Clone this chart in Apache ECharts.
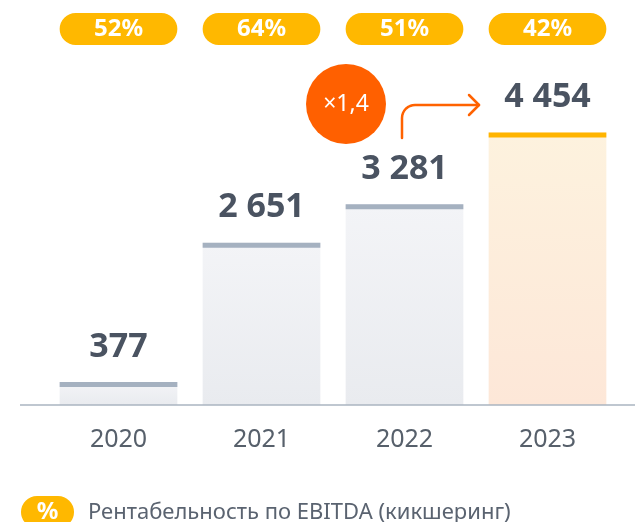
<!DOCTYPE html>
<html><head><meta charset="utf-8">
<script src="https://cdn.jsdelivr.net/npm/echarts/dist/echarts.min.js"></script>
<style>html,body{margin:0;padding:0;background:#fff}#c{width:635px;height:522px}</style>
</head><body><div id="c"></div><script>
const categories = ['2020', '2021', '2022', '2023'];
const revenue = [377, 2651, 3281, 4454];
const margins = [52, 64, 51, 42];
const growthLabel = '×1,4';
const legendText = 'Рентабельность по EBITDA (кикшеринг)';

const FONT = '"Noto Sans", "DejaVu Sans", sans-serif';
const fmt = v => String(v).replace(/\B(?=(\d{3})+(?!\d))/g, ' ');
const lastIdx = categories.length - 1;

const chart = echarts.init(document.getElementById('c'), null, {renderer: 'canvas'});

const barData = revenue.map((v, i) => [i, v]);
const pillData = margins.map((v, i) => [i, v]);

// arrow path: vertical up, rounded corner, horizontal right
const arrowPts = [[402, 138], [402, 118]];
for (let k = 1; k <= 8; k++) {
  const a = Math.PI - (k / 8) * (Math.PI / 2);
  arrowPts.push([415 + 13 * Math.cos(a), 118 - 13 * Math.sin(a)]);
}
arrowPts.push([479, 105]);

chart.setOption({
  animation: false,
  backgroundColor: '#ffffff',
  grid: {left: 47, right: 16, top: 99, bottom: 117},
  xAxis: {
    type: 'category', data: categories,
    axisLine: {show: false}, axisTick: {show: false},
    axisLabel: {color: '#57606B', fontSize: 25, fontFamily: FONT, margin: 22}
  },
  yAxis: {type: 'value', min: 0, max: 5000, show: false, splitLine: {show: false}},
  series: [
    {
      type: 'custom',
      data: barData,
      clip: false,
      renderItem: function (params, api) {
        const i = api.value(0), v = api.value(1);
        const top = api.coord([i, v]);
        const base = api.coord([i, 0]);
        const w = api.size([1, 0])[0] * 0.823;
        const x = top[0] - w / 2;
        const hl = i === lastIdx;
        const fill = {
          type: 'linear', x: 0, y: 0, x2: 0, y2: 1,
          colorStops: hl
            ? [{offset: 0, color: '#FDF2DE'}, {offset: 1, color: '#FDE7D8'}]
            : [{offset: 0, color: '#F3F4F7'}, {offset: 1, color: '#E9EBEF'}]
        };
        return {
          type: 'group',
          children: [
            {type: 'rect', shape: {x: x, y: top[1], width: w, height: base[1] - top[1]}, style: {fill: fill}},
            {type: 'rect', shape: {x: x, y: top[1], width: w, height: 5}, style: {fill: hl ? '#FFB400' : '#A5B1C0'}},
            {type: 'text', x: top[0], y: top[1] - 35,
              style: {text: fmt(v), align: 'center', verticalAlign: 'middle',
                font: 'bold 34px ' + FONT, fill: '#4A5361'}}
          ]
        };
      }
    },
    {
      type: 'custom',
      data: pillData,
      clip: false,
      renderItem: function (params, api) {
        const i = api.value(0), v = api.value(1);
        const c = api.coord([i, 0]);
        const w = api.size([1, 0])[0] * 0.823;
        return {
          type: 'group',
          children: [
            {type: 'rect', shape: {x: c[0] - w / 2, y: 13, width: w, height: 32, r: 16}, style: {fill: '#FFB800'}},
            {type: 'text', x: c[0], y: 29.5,
              style: {text: v + '%', align: 'center', verticalAlign: 'middle',
                font: 'bold 24px ' + FONT, fill: '#ffffff'}}
          ]
        };
      }
    }
  ],
  graphic: [
    {type: 'line', shape: {x1: 20, y1: 405, x2: 635, y2: 405}, style: {stroke: '#AAB4C1', lineWidth: 1.5}, z: 10},
    {type: 'circle', shape: {cx: 346, cy: 104, r: 40}, style: {fill: '#FF6000'}, z: 10},
    {type: 'text', x: 346, y: 104, style: {text: growthLabel, align: 'center', verticalAlign: 'middle', font: '23px ' + FONT, fill: '#ffffff'}, z: 11},
    {type: 'polyline', shape: {points: arrowPts},
      style: {stroke: '#FF6200', lineWidth: 2.5, fill: null, lineCap: 'round', lineJoin: 'round'}, z: 10},
    {type: 'polyline', shape: {points: [[469, 95], [479, 105], [469, 115]]},
      style: {stroke: '#FF6200', lineWidth: 2.5, fill: null, lineCap: 'round', lineJoin: 'round'}, z: 10},
    {type: 'rect', shape: {x: 21, y: 496, width: 53, height: 32, r: 16}, style: {fill: '#FFB800'}, z: 10},
    {type: 'text', x: 47.5, y: 512, style: {text: '%', align: 'center', verticalAlign: 'middle', font: 'bold 24px ' + FONT, fill: '#ffffff'}, z: 11},
    {type: 'text', x: 88, y: 513, style: {text: legendText, align: 'left', verticalAlign: 'middle', font: '22px ' + FONT, fill: '#5A6370'}, z: 11}
  ]
});
</script></body></html>
